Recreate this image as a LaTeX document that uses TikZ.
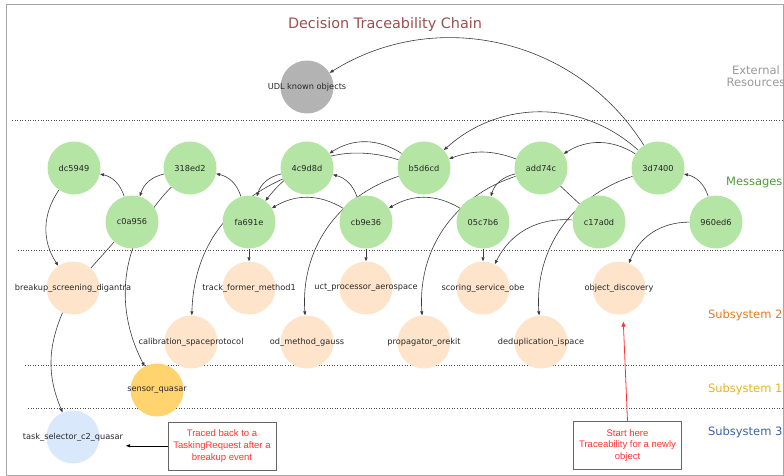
\documentclass[tikz,border=0pt]{standalone}
\usepackage{fontspec}
\setmainfont{DejaVu Sans}
\newfontfamily\notefont{Liberation Sans}
\usetikzlibrary{arrows.meta,backgrounds}

\definecolor{msggreen}{HTML}{B5E5A4}
\definecolor{svcpeach}{HTML}{FFE4CC}
\definecolor{sensorgold}{HTML}{FFD36E}
\definecolor{taskblue}{HTML}{DAE8FC}
\definecolor{udlgray}{HTML}{B3B3B3}
\definecolor{titlered}{HTML}{9C4F4F}
\definecolor{extgray}{HTML}{999999}
\definecolor{msgtext}{HTML}{4E9A3A}
\definecolor{subtwo}{HTML}{E07C1E}
\definecolor{subone}{HTML}{E8B220}
\definecolor{subthree}{HTML}{3A62A8}
\definecolor{notered}{HTML}{FF3333}
\definecolor{linkgray}{HTML}{3A3A3A}

\tikzset{
  blob/.style={circle,minimum size=53pt,inner sep=0pt,text=black!85,font=\fontsize{8.2}{9.6}\selectfont},
  msg/.style={blob,fill=msggreen},
  svc/.style={blob,fill=svcpeach},
  lbl/.style={text=black!85,font=\fontsize{8.2}{9.6}\selectfont,inner sep=0pt},
  link/.style={draw=linkgray,line width=0.6pt,-{Triangle[length=4pt,width=3pt]}},
  plain/.style={draw=linkgray,line width=0.6pt},
  band/.style={draw=black!70,dotted,line width=0.6pt},
  layer/.style={anchor=east,font=\fontsize{11.5}{13.5}\selectfont},
  note/.style={draw=black!60,fill=white,line width=0.6pt,minimum width=108pt,minimum height=48pt,
    align=center,text=notered,font=\notefont\fontsize{9.5}{11.8}\selectfont}
}

\begin{document}
\begin{tikzpicture}[x=1pt,y=-1pt]
\useasboundingbox (0,0) rectangle (784,476);
\draw [gray!70,line width=0.8pt] (6.5,4.5) rectangle (783.5,475.5);

% title and layers
\node [text=titlered,font=\fontsize{14.4}{16}\selectfont] (title) at (385,25) {Decision Traceability Chain};
\node [text=extgray,align=center,font=\fontsize{11.5}{12.5}\selectfont] (extlabel) at (756,76) {External\\Resources};
\node [layer,text=msgtext] (msglabel) at (786,182.7) {Messages};
\node [layer,text=subtwo] (sub2label) at (786,315.7) {Subsystem 2};
\node [layer,text=subone] (sub1label) at (786,389.3) {Subsystem 1};
\node [layer,text=subthree] (sub3label) at (786,432.7) {Subsystem 3};

\draw [band] (12,120) -- (784,120);
\draw [band] (18,250.5) -- (784,250.5);
\draw [band] (25,365) -- (784,365);
\draw [band] (28,408) -- (784,408);

% external
\node [blob,fill=udlgray,label={[lbl]center:UDL known objects}] (udl) at (307,87) {};

% messages
\node [msg] (mdc5949) at (74,168) {dc5949};
\node [msg] (m318ed2) at (190,168) {318ed2};
\node [msg] (m4c9d8d) at (307,168) {4c9d8d};
\node [msg] (mb5d6cd) at (424,168) {b5d6cd};
\node [msg] (madd74c) at (541,168) {add74c};
\node [msg] (m3d7400) at (658,168) {3d7400};
\node [msg] (mc0a956) at (132,222) {c0a956};
\node [msg] (mfa691e) at (249,222) {fa691e};
\node [msg] (mcb9e36) at (366,222) {cb9e36};
\node [msg] (m05c7b6) at (483,222) {05c7b6};
\node [msg] (mc17a0d) at (599,222) {c17a0d};
\node [msg] (m960ed6) at (716,222) {960ed6};

% subsystem 2
\node [svc,label={[lbl]center:breakup\_screening\_digantra}] (breakup) at (73,288) {};
\node [svc,label={[lbl]center:track\_former\_method1}] (trackformer) at (249,288) {};
\node [svc,label={[lbl]center:uct\_processor\_aerospace}] (uct) at (366,288) {};
\node [svc,label={[lbl]center:scoring\_service\_obe}] (scoring) at (483,288) {};
\node [svc,label={[lbl]center:object\_discovery}] (objdisc) at (619,288) {};
\node [svc,label={[lbl]center:calibration\_spaceprotocol}] (calib) at (191,342) {};
\node [svc,label={[lbl]center:od\_method\_gauss}] (odgauss) at (307,342) {};
\node [svc,label={[lbl]center:propagator\_orekit}] (orekit) at (424,342) {};
\node [svc,label={[lbl]center:deduplication\_ispace}] (dedup) at (541,342) {};

% subsystem 1 and 3
\node [blob,fill=sensorgold,label={[lbl]center:sensor\_quasar}] (sensor) at (157,390) {};
\node [blob,fill=taskblue,label={[lbl]center:task\_selector\_c2\_quasar}] (taskselector) at (73,437) {};

% notes
\node [note] (tracebox) at (222,445.8) {Traced back to a\\TaskingRequest after a\\breakup event};
\node [note] (startbox) at (627.5,445.5) {Start here\\Traceability for a newly\\object};
\coordinate (tracetip) at (126,445.8);
\coordinate (starttip) at (623.3,321.7);
\draw [link,draw=black] (tracebox) -- (tracetip);
\draw [link,draw=notered,line width=0.8pt,-{Triangle[length=5pt,width=4pt]}] (startbox.north) -- (starttip);

\begin{scope}[on background layer]
\draw [link] (m3d7400) to [bend right=45] (udl);
\draw [link] (m3d7400) to [bend right=42] (mb5d6cd);
\draw [link] (m3d7400) to [bend right=32] (madd74c);
\draw [link] (madd74c) to [bend right=20] (mb5d6cd);
\draw [link] (mb5d6cd) to [bend right=33] (m4c9d8d);
\draw [link] (mb5d6cd) to [bend right=35] (mfa691e);
\draw [link] (m4c9d8d) to [bend right=30] (mfa691e);
\draw [link] (mcb9e36) to [bend right=28] (m4c9d8d);
\draw [link] (mcb9e36) to [bend right=31] (mfa691e);
\draw [link] (mfa691e) to [bend right=30] (m318ed2);
\draw [link] (m318ed2) to [bend right=30] (mc0a956);
\draw [link] (mc0a956) to [bend right=30] (mdc5949);
\draw [link] (mdc5949) to [bend right=34] (breakup);
\draw [link] (m05c7b6) to [bend right=31] (mcb9e36);
\draw [link] (madd74c) to [bend right=30] (m05c7b6);
\draw [link] (m960ed6) to [bend right=30] (m3d7400);
\draw [link] (mc17a0d) to [bend right=34] (scoring);
\draw [link] (m960ed6) to [bend right=34] (objdisc);
\draw [link] (m05c7b6) -- (scoring);
\draw [link] (mcb9e36) -- (uct);
\draw [link] (mfa691e) -- (trackformer);
\draw [link] (mb5d6cd) to [bend right=38] (odgauss);
\draw [link] (madd74c) to [bend right=38] (orekit);
\draw [link] (m3d7400) to [bend right=38] (dedup);
\draw [link] (m4c9d8d) to [bend right=32] (calib);
\draw [link] (m318ed2) to [bend right=36] (sensor);
\draw [link] (breakup) to [bend right=23] (taskselector);
\draw [plain] (mc0a956) -- (breakup);
\draw [plain] (madd74c) -- (mc17a0d);
\end{scope}
\end{tikzpicture}
\end{document}
